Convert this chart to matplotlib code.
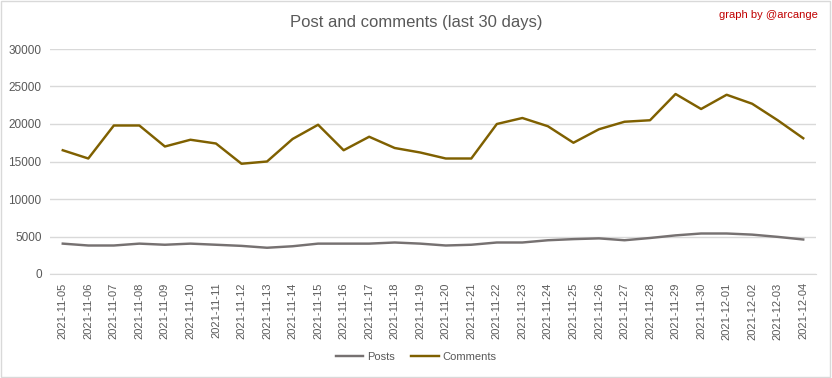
import matplotlib.pyplot as plt
import numpy as np

# ---------------------------------------------------------------------------
# Data
# ---------------------------------------------------------------------------

dates = [
    "2021-11-05", "2021-11-06", "2021-11-07", "2021-11-08", "2021-11-09",
    "2021-11-10", "2021-11-11", "2021-11-12", "2021-11-13", "2021-11-14",
    "2021-11-15", "2021-11-16", "2021-11-17", "2021-11-18", "2021-11-19",
    "2021-11-20", "2021-11-21", "2021-11-22", "2021-11-23", "2021-11-24",
    "2021-11-25", "2021-11-26", "2021-11-27", "2021-11-28", "2021-11-29",
    "2021-11-30", "2021-12-01", "2021-12-02", "2021-12-03", "2021-12-04",
]
posts = [
    4050, 3800, 3800, 4050, 3900, 4050, 3900, 3750, 3500, 3700,
    4050, 4050, 4050, 4200, 4050, 3800, 3900, 4200, 4200, 4500,
    4650, 4750, 4500, 4800, 5150, 5400, 5400, 5250, 4950, 4600,
]
comments = [
    16500, 15400, 19800, 19800, 17000, 17900, 17400, 14700, 15000, 18000,
    19900, 16500, 18300, 16800, 16200, 15400, 15400, 20000, 20800, 19700,
    17500, 19300, 20300, 20500, 24000, 22000, 23900, 22700, 20500, 18100,
]
yticks = [0, 5000, 10000, 15000, 20000, 25000, 30000]

# ---------------------------------------------------------------------------
# Plot
# ---------------------------------------------------------------------------

plt.rcParams["font.family"] = ["Liberation Sans", "DejaVu Sans"]
TEXT = "#595959"

fig = plt.figure(figsize=(8.32, 3.78), dpi=100)
ax = fig.add_axes([50 / 832, 104 / 378, 766 / 832, 225 / 378])

x = np.arange(len(dates))
ax.plot(x, posts, color="#767171", linewidth=1.75, label="Posts")
ax.plot(x, comments, color="#7F6000", linewidth=1.75, label="Comments")

ax.set_xlim(-0.5, len(dates) - 0.5)
ax.set_ylim(0, 30000)
ax.set_yticks(yticks)
ax.set_yticklabels([str(v) for v in yticks], fontsize=8.5, color=TEXT)
ax.set_xticks(x)
ax.set_xticklabels(dates, rotation=90, fontsize=8, color=TEXT)
ax.tick_params(length=0, pad=6)
ax.grid(axis="y", color="#d9d9d9", linewidth=1)
ax.set_axisbelow(True)
for s in ["top", "right", "left"]:
    ax.spines[s].set_visible(False)
ax.spines["bottom"].set_color("#d9d9d9")

fig.text(0.5, 1 - 22 / 378, "Post and comments (last 30 days)",
         ha="center", va="center", fontsize=12, color=TEXT)
fig.text(818 / 832, 1 - 15 / 378, "graph by @arcange",
         ha="right", va="center", fontsize=8, color="#c00000")

fig.legend(loc="center", bbox_to_anchor=(0.5, 1 - 357 / 378), ncol=2,
           frameon=False, fontsize=8, labelcolor=TEXT, handlelength=2.5,
           handletextpad=0.3, columnspacing=1.5)

# figure border
fig.patches.append(plt.Rectangle((0.001, 0.002), 0.997, 0.995,
                                 transform=fig.transFigure, fill=False,
                                 edgecolor="#d9d9d9", linewidth=1))

fig.savefig("out.png", dpi=100)
